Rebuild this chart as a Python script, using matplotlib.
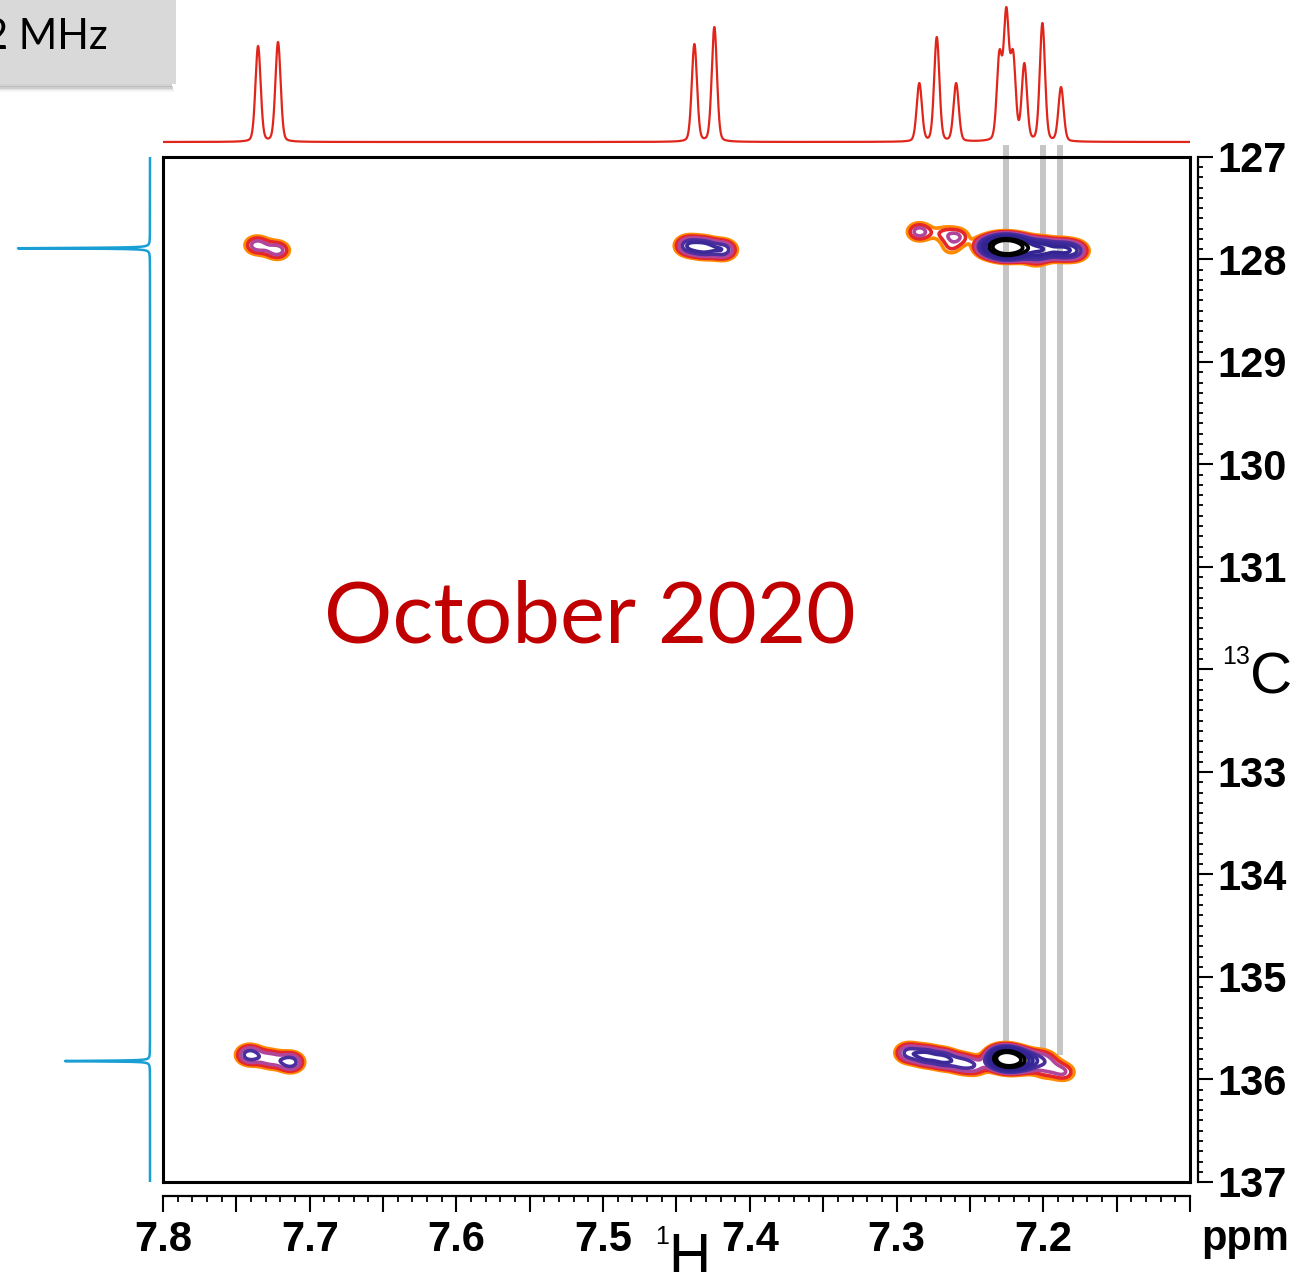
import numpy as np
import matplotlib
matplotlib.use("Agg")
import matplotlib.pyplot as plt
from matplotlib.ticker import MultipleLocator
from matplotlib.patches import Rectangle

plt.rcParams['font.family'] = ['Liberation Sans', 'DejaVu Sans']

# 1H projection: line positions (ppm) and heights
h_peaks = [7.7352, 7.7216, 7.4378, 7.4242, 7.2845, 7.2726, 7.2594,
           7.2299, 7.2252, 7.2206, 7.2129, 7.2006, 7.1879]
h_heights = [96, 100, 98, 115, 59, 105, 59, 92, 135, 92, 79, 119, 55]

# 13C projection
c_peaks = [127.89, 135.82]
c_heights = [132, 85]

# HSQC cross peak components (1H ppm, 13C ppm, intensity)
cross_h = [7.736, 7.722,
           7.442, 7.431, 7.418,
           7.2845, 7.268, 7.258, 7.263,
           7.238, 7.2299, 7.2252, 7.219, 7.212, 7.2006, 7.1879, 7.178, 7.205,
           7.741, 7.727, 7.713,
           7.292, 7.280, 7.268, 7.256, 7.246,
           7.2299, 7.2245, 7.219, 7.211,
           7.200, 7.186, 7.194, 7.200]
cross_c = [127.86, 127.91,
           127.865, 127.885, 127.905,
           127.73, 127.745, 127.775, 127.89,
           127.875, 127.875, 127.88, 127.88, 127.885, 127.895, 127.905, 127.915, 128.0,
           135.76, 135.80, 135.83,
           135.74, 135.77, 135.80, 135.84, 135.87,
           135.79, 135.80, 135.81, 135.82,
           135.79, 135.93, 135.86, 135.93]
cross_amp = [2.5, 2.5,
             3.5, 4.1, 3.5,
             2.5, 1.2, 1.8, 1.15,
             4.2, 7.5, 10, 7.5, 5, 5.5, 4.5, 3.2, 1.2,
             3.6, 2.5, 3.6,
             3.2, 3.8, 3.8, 2.9, 2.1,
             7, 11, 7, 4,
             1.7, 1.9, 1.1, 1.0]

x_labels = [7.8, 7.7, 7.6, 7.5, 7.4, 7.3, 7.2]
y_labels = [127, 128, 129, 130, 131, 133, 134, 135, 136, 137]

# grey guides dropped from the top trace
guide_h = [7.2255, 7.2005, 7.1885]
guide_end = [135.66, 135.74, 135.76]

levels = [1.0, 1.45, 2.1, 3.0, 4.0, 5.3, 7.0, 9.5, 12.5]
level_colors = ['#ff8a00', '#e5262b', '#b0469b', '#4b2f9f', '#3c2a99',
                '#332494', '#332494', '#000000', '#000000']

W, H = 1304, 1272
fig = plt.figure(figsize=(W / 100, H / 100), dpi=100)


def px_axes(x0, y0, x1, y1, **kw):
    return fig.add_axes([x0 / W, 1 - y1 / H, (x1 - x0) / W, (y1 - y0) / H], **kw)


def pvoigt(d, fwhm, eta):
    g = np.exp(-4 * np.log(2) * (d / fwhm) ** 2)
    l = 1 / (1 + 4 * (d / fwhm) ** 2)
    return (1 - eta) * g + eta * l


# overlay in pixel units for the loose labels
bg = fig.add_axes([0, 0, 1, 1], zorder=-5)
bg.set_xlim(0, W)
bg.set_ylim(H, 0)
bg.axis('off')

# field label box with soft shadow
for i, a in enumerate([0.35, 0.25, 0.15, 0.08]):
    bg.add_patch(Rectangle((-10, 84 + i * 1.5), 182 + i * 0.5, 3, color='#7f7f7f', alpha=a, lw=0))
bg.add_patch(Rectangle((-10, -10), 186, 94, color='#d9d9d9', lw=0))
bg.text(108, 49, '2 MHz', fontsize=30, family=['Lato', 'DejaVu Sans'], ha='right', va='baseline')

# main 2D frame
main = px_axes(163, 157, 1190, 1182)
main.set_xlim(7.8, 7.1)
main.set_ylim(137, 127)
main.set_xticks([])
main.set_yticks([])
for s in main.spines.values():
    s.set_linewidth(2.2)
    s.set_zorder(5)

hh = np.linspace(7.8, 7.1, 1400)
cc = np.linspace(127, 137, 1001)
HH, CC = np.meshgrid(hh, cc)
Z = np.zeros_like(HH)
for h0, c0, a in zip(cross_h, cross_c, cross_amp):
    Z += a * np.exp(-0.5 * ((HH - h0) / 0.006) ** 2 - 0.5 * ((CC - c0) / 0.065) ** 2)
main.contour(HH, CC, Z, levels=levels, colors=level_colors, linewidths=2.6, zorder=3)

for h0, c1 in zip(guide_h, guide_end):
    main.plot([h0, h0], [126.88, c1], color='#c6c6c6', lw=4.3,
              solid_capstyle='butt', clip_on=False, zorder=1)

main.text(7.509, 131.5, 'October 2020', color='#c00000', fontsize=61.5,
          family=['Lato', 'DejaVu Sans'], ha='center', va='center')

# offset scales below and to the right of the frame
scale = px_axes(163, 157, 1190, 1182)
scale.patch.set_visible(False)
scale.set_xlim(7.8, 7.1)
scale.set_ylim(137, 127)
scale.spines['top'].set_visible(False)
scale.spines['left'].set_visible(False)
scale.spines['bottom'].set_position(('outward', 10))
scale.spines['right'].set_position(('outward', 5.8))
for s in ('bottom', 'right'):
    scale.spines[s].set_linewidth(1.6)
scale.yaxis.tick_right()
xt = np.round(np.arange(7.1, 7.8001, 0.05), 2)
scale.set_xticks(xt)
scale.set_xticklabels([f'{t:.1f}' if t in x_labels else '' for t in xt],
                      fontsize=30, fontweight='bold')
scale.xaxis.set_minor_locator(MultipleLocator(0.01))
yt = np.arange(127, 138)
scale.set_yticks(yt)
scale.set_yticklabels([str(t) if t in y_labels else '' for t in yt],
                      fontsize=30, fontweight='bold')
scale.yaxis.set_minor_locator(MultipleLocator(0.1))
scale.tick_params(axis='x', which='major', length=11.5, width=1.5, pad=6)
scale.tick_params(axis='x', which='minor', length=4.3, width=1.3)
scale.tick_params(axis='y', which='major', length=10.8, width=1.5, pad=3)
scale.tick_params(axis='y', which='minor', length=3.6, width=1.3)

bg.text(1222, 664, '13', fontsize=18, ha='left', va='baseline')
bg.text(1250, 694, 'C', fontsize=42, ha='left', va='baseline')
bg.text(655, 1244, '1', fontsize=18, ha='left', va='baseline')
bg.text(668, 1274, 'H', fontsize=42, ha='left', va='baseline')
bg.text(1245, 1250, 'ppm', fontsize=30, fontweight='bold', ha='center', va='baseline')

# 1H trace on top
top = px_axes(163, 0, 1190, 150)
top.set_xlim(7.8, 7.1)
top.set_ylim(-8, 142)
top.axis('off')
xs = np.linspace(7.8, 7.1, 8000)
p = np.array(h_peaks)
M = pvoigt(p[:, None] - p[None, :], 0.0042, 0.2)
amps = np.linalg.solve(M, np.array(h_heights, float))
spec = (amps[None, :] * pvoigt(xs[:, None] - p[None, :], 0.0042, 0.2)).sum(axis=1)
top.plot(xs, spec, color='#e0251b', lw=1.6)

# 13C trace on the left
left = px_axes(10, 157, 157, 1182)
left.set_xlim(140, -7)
left.set_ylim(137, 127)
left.axis('off')
ys = np.linspace(127, 137, 20001)
cspec = sum(hgt / (1 + ((ys - c0) / 0.004) ** 2) for c0, hgt in zip(c_peaks, c_heights))
left.plot(cspec, ys, color='#1a9fd4', lw=1.8)

fig.savefig('out.png', dpi=100)
